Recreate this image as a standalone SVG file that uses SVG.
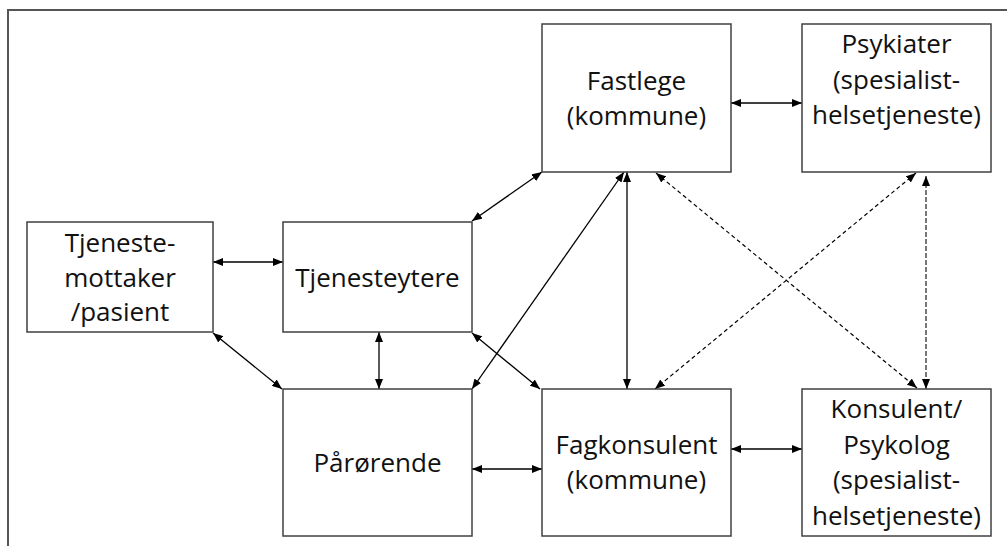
<svg xmlns="http://www.w3.org/2000/svg" width="1007" height="546" viewBox="0 0 1007 546">
<style>
.box{fill:#fff;stroke:#404040;stroke-width:1.5}
.lbl{font-family:"Open Sans","Noto Sans",sans-serif;font-size:26px;fill:#111;text-anchor:middle}
.c{fill:none;stroke:#000;stroke-width:1.3;marker-start:url(#ah);marker-end:url(#ah)}
.d{fill:none;stroke:#000;stroke-width:1.2;stroke-dasharray:4 3;marker-start:url(#ah);marker-end:url(#ah)}
.dv{fill:none;stroke:#555;stroke-width:1.6;stroke-dasharray:5 2;marker-start:url(#ah);marker-end:url(#ah)}
</style>
<defs>
<marker id="ah" viewBox="0 0 10 8" refX="10" refY="4" markerWidth="10" markerHeight="8" markerUnits="userSpaceOnUse" orient="auto-start-reverse">
<path d="M0,0 L10,4 L0,8 Z" fill="#000"/>
</marker>
</defs>
<rect width="1007" height="546" fill="#fff"/>
<path d="M8,546 V10 H1007" fill="none" stroke="#555" stroke-width="2"/>
<g id="connectors">
<line class="c" x1="213" y1="262" x2="283" y2="262"/>
<line class="c" x1="213" y1="333" x2="282" y2="389"/>
<line class="c" x1="379" y1="332" x2="379" y2="389"/>
<line class="c" x1="472" y1="221" x2="542" y2="172"/>
<line class="c" x1="472" y1="333" x2="540" y2="389"/>
<line class="c" x1="472" y1="389" x2="624" y2="172"/>
<line class="c" x1="627" y1="172" x2="627" y2="389"/>
<line class="c" x1="472" y1="469" x2="542" y2="469"/>
<line class="c" x1="731" y1="103" x2="802" y2="103"/>
<line class="c" x1="731" y1="449" x2="802" y2="449"/>
<line class="d" x1="656" y1="173" x2="917" y2="388"/>
<line class="d" x1="916" y1="173" x2="655" y2="389"/>
<line class="dv" x1="926" y1="176" x2="926" y2="389"/>
</g>
<g id="tjenestemottaker">
<rect class="box" x="27" y="222" width="186" height="110"/>
<text class="lbl" x="120" y="252">Tjeneste-</text>
<text class="lbl" x="120" y="287">mottaker</text>
<text class="lbl" x="120" y="321">/pasient</text>
</g>
<g id="tjenesteytere">
<rect class="box" x="283" y="222" width="189" height="110"/>
<text class="lbl" x="377.5" y="287">Tjenesteytere</text>
</g>
<g id="parorende">
<rect class="box" x="283" y="389" width="189" height="147"/>
<text class="lbl" x="377.5" y="472">Pårørende</text>
</g>
<g id="fastlege">
<rect class="box" x="542" y="24" width="189" height="148"/>
<text class="lbl" x="636.5" y="90">Fastlege</text>
<text class="lbl" x="636.5" y="125">(kommune)</text>
</g>
<g id="fagkonsulent">
<rect class="box" x="542" y="389" width="189" height="147"/>
<text class="lbl" x="636.5" y="454">Fagkonsulent</text>
<text class="lbl" x="636.5" y="489">(kommune)</text>
</g>
<g id="psykiater">
<rect class="box" x="802" y="24" width="189" height="148"/>
<text class="lbl" x="896.5" y="53">Psykiater</text>
<text class="lbl" x="896.5" y="88.5">(spesialist-</text>
<text class="lbl" x="896.5" y="124">helsetjeneste)</text>
</g>
<g id="konsulent">
<rect class="box" x="802" y="389" width="189" height="147"/>
<text class="lbl" x="896.5" y="418">Konsulent/</text>
<text class="lbl" x="896.5" y="453.5">Psykolog</text>
<text class="lbl" x="896.5" y="489">(spesialist-</text>
<text class="lbl" x="896.5" y="524.5">helsetjeneste)</text>
</g>
</svg>
